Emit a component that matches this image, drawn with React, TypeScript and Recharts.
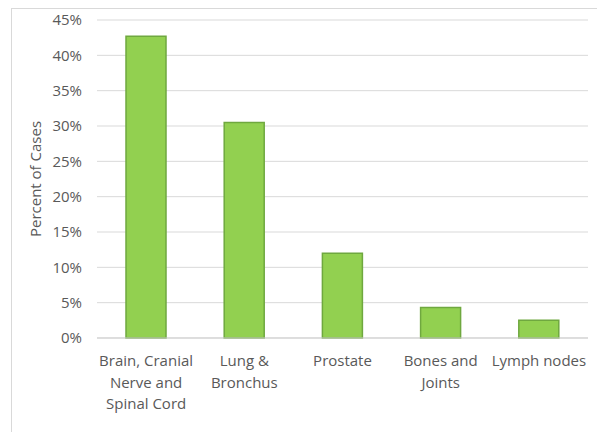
import React from 'react';
import { BarChart, Bar, XAxis, YAxis, CartesianGrid } from 'recharts';

const categories = [
  'Brain, Cranial Nerve and Spinal Cord',
  'Lung & Bronchus',
  'Prostate',
  'Bones and Joints',
  'Lymph nodes',
];
const percentOfCases = [0.427, 0.305, 0.12, 0.043, 0.025];
const tickLines = [
  ['Brain, Cranial', 'Nerve and', 'Spinal Cord'],
  ['Lung &', 'Bronchus'],
  ['Prostate'],
  ['Bones and', 'Joints'],
  ['Lymph nodes'],
];
const yTicks = [0, 0.05, 0.1, 0.15, 0.2, 0.25, 0.3, 0.35, 0.4, 0.45];

const data = categories.map((name, i) => ({ name, value: percentOfCases[i] }));

const font = '"Open Sans", sans-serif';
const textColor = '#595959';

function CategoryTick(props: any) {
  const { x, y, payload } = props;
  const idx = categories.indexOf(payload.value);
  const lines = tickLines[idx] || [payload.value];
  return (
    <text x={x} y={y} textAnchor="middle" fill={textColor} fontSize={15} fontFamily={font}>
      {lines.map((l, i) => (
        <tspan key={i} x={x} dy={i === 0 ? 20 : 21.5}>
          {l}
        </tspan>
      ))}
    </text>
  );
}

function YLabel(props: any) {
  const { viewBox } = props;
  const cx = 23;
  const cy = viewBox.y + viewBox.height / 2;
  return (
    <text
      x={cx}
      y={cy}
      transform={`rotate(-90, ${cx}, ${cy})`}
      textAnchor="middle"
      dominantBaseline="central"
      fill={textColor}
      fontSize={15}
      fontFamily={font}
    >
      Percent of Cases
    </text>
  );
}

export default function App() {
  return (
    <div
      style={{
        width: 587,
        height: 430,
        marginLeft: 3,
        border: '1px solid #d9d9d9',
        background: '#fff',
      }}
    >
      <BarChart
        width={587}
        height={430}
        data={data}
        margin={{ top: 11, right: 11, left: 0, bottom: 0 }}
        barSize={40}
      >
        <CartesianGrid vertical={false} stroke="#d9d9d9" />
        <XAxis
          dataKey="name"
          height={101}
          axisLine={{ stroke: '#cfcfcf' }}
          tickLine={false}
          interval={0}
          tick={<CategoryTick />}
        />
        <YAxis
          width={85}
          domain={[0, 0.45]}
          ticks={yTicks}
          tickFormatter={(v: number) => `${Math.round(v * 100)}%`}
          axisLine={false}
          tickLine={false}
          tickMargin={9}
          tick={{ fill: textColor, fontSize: 15, fontFamily: font }}
          label={<YLabel />}
        />
        <Bar dataKey="value" fill="#92d050" stroke="#6fa83f" strokeWidth={1.5} isAnimationActive={false} />
      </BarChart>
    </div>
  );
}
